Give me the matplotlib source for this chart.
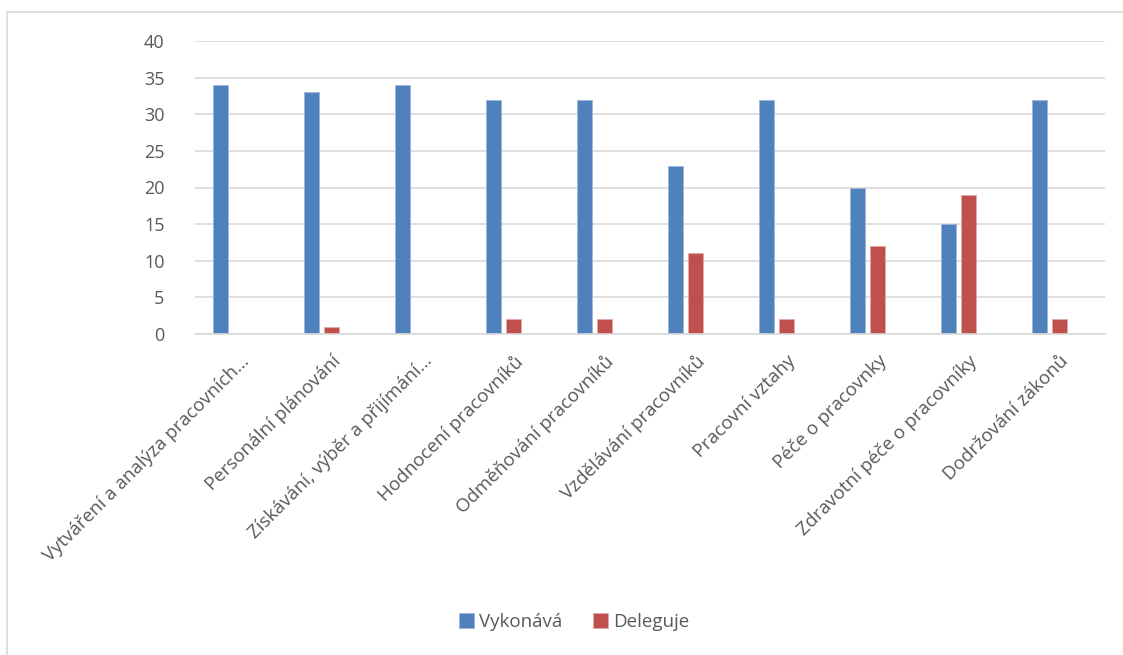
import matplotlib.pyplot as plt
import numpy as np
from matplotlib.lines import Line2D

# data
categories = ['Vytváření a analýza pracovních...', 'Personální plánování',
              'Získávání, výběr a přijímání...', 'Hodnocení pracovníků',
              'Odměňování pracovníků', 'Vzdělávání pracovníků', 'Pracovní vztahy',
              'Péče o pracovnky', 'Zdravotní péče o pracovníky', 'Dodržování zákonů']
vykonava = [34, 33, 34, 32, 32, 23, 32, 20, 15, 32]
deleguje = [0, 1, 0, 2, 2, 11, 2, 12, 19, 2]
yticks = [0, 5, 10, 15, 20, 25, 30, 35, 40]

plt.rcParams['font.family'] = ['Open Sans', 'DejaVu Sans']
txt = '#595959'

fig = plt.figure(figsize=(11.23, 6.55), dpi=100)
ax = fig.add_axes([195/1123, 1-334/655, 910/1123, 293/655])

x = np.arange(len(categories))
w = 0.175
# Excel layout: room for a third (empty) series, so bars sit left of the centre
ax.bar(x - 0.22, vykonava, w, color='#4F81BD', edgecolor='#9DB6D8', linewidth=0.6, label='Vykonává')
ax.bar(x, deleguje, w, color='#C0504D', edgecolor='#E3AAA8', linewidth=0.6, label='Deleguje')

ax.set_xlim(-0.5, len(categories) - 0.5)
ax.set_ylim(0, 40)
ax.set_yticks(yticks)
ax.yaxis.grid(True, color='#D9D9D9', linewidth=1.2)
ax.set_axisbelow(True)
for s in ['top', 'right', 'left']:
    ax.spines[s].set_visible(False)
ax.spines['bottom'].set_color('#D9D9D9')
ax.spines['bottom'].set_linewidth(1.2)
ax.tick_params(length=0, labelsize=13, labelcolor=txt)
ax.tick_params(axis='y', pad=22)

ax.set_xticks(x)
ax.set_xticklabels(categories, rotation=45, ha='right', rotation_mode='anchor')
for lab in ax.get_xticklabels():
    lab.set_fontsize(13.5)
ax.tick_params(axis='x', pad=13)

fig.legend(loc='center', bbox_to_anchor=(574/1123, 1-622/655), ncol=2, frameon=False,
           fontsize=13.5, labelcolor=txt, handlelength=0.8, handleheight=0.8,
           handletextpad=0.3, columnspacing=1.6)

# chart-area border (only top and left edges are visible in the crop)
fig.lines.append(Line2D([7/1123, 7/1123, 1], [0, 1-12/655, 1-12/655],
                        transform=fig.transFigure, color='#D9D9D9', linewidth=1.2))

fig.savefig('out.png', dpi=100)
